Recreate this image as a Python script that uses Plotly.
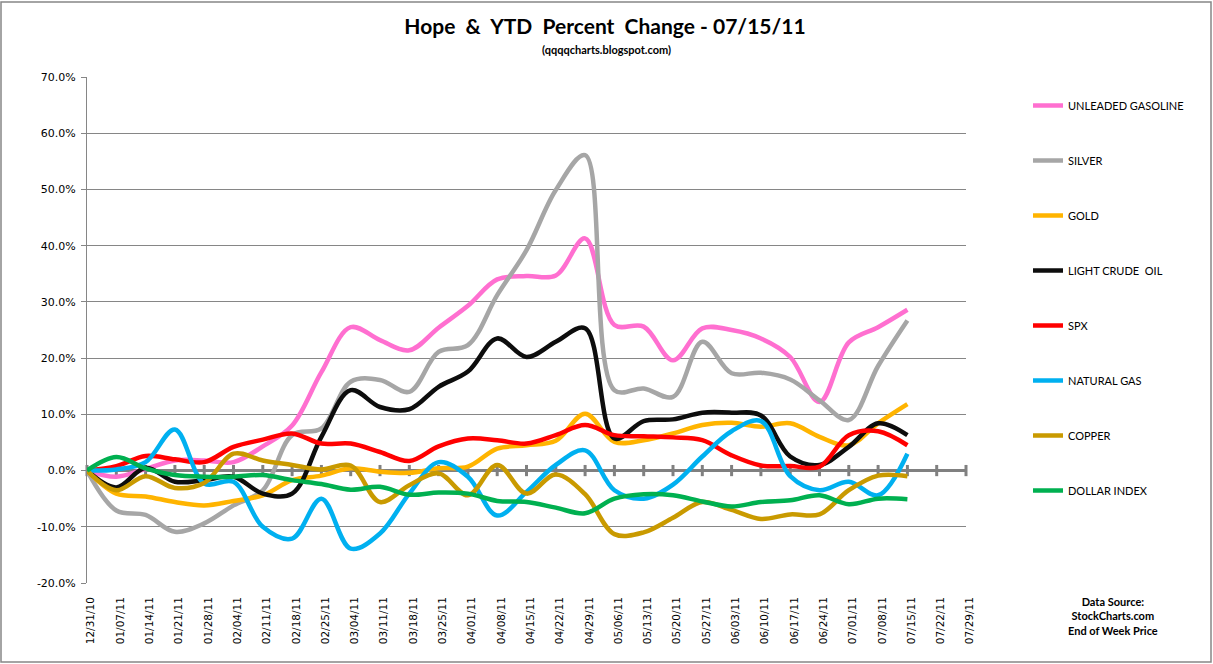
import plotly.graph_objects as go

dates = ["12/31/10", "01/07/11", "01/14/11", "01/21/11", "01/28/11", "02/04/11", "02/11/11",
         "02/18/11", "02/25/11", "03/04/11", "03/11/11", "03/18/11", "03/25/11", "04/01/11",
         "04/08/11", "04/15/11", "04/22/11", "04/29/11", "05/06/11", "05/13/11", "05/20/11",
         "05/27/11", "06/03/11", "06/10/11", "06/17/11", "06/24/11", "07/01/11", "07/08/11",
         "07/15/11", "07/22/11", "07/29/11"]

gasoline = [0, -1.1, 0.3, 1.8, 1.8, 1.5, 4.3, 8.0, 17.5, 25.5, 23.2, 21.4, 25.4, 29.3, 34.0, 34.6,
            34.7, 41.3, 25.9, 25.6, 19.6, 25.3, 25.0, 23.5, 20.2, 12.2, 22.8, 25.5, 28.6]
silver = [0, -7.1, -7.9, -10.9, -9.4, -6.2, -3.5, 6.3, 7.5, 15.8, 16.1, 14.0, 21.1, 22.3, 31.2, 39.2,
          49.9, 56.1, 14.3, 14.6, 13.1, 22.9, 17.3, 17.4, 16.2, 12.5, 9.0, 18.6, 26.7]
gold = [0, -4.1, -4.6, -5.6, -6.2, -5.4, -4.4, -1.7, -0.9, 0.4, -0.2, -0.4, 0.4, 0.7, 3.9, 4.5,
        5.3, 10.1, 5.1, 5.4, 6.6, 8.1, 8.5, 7.8, 8.4, 6.0, 4.5, 8.4, 11.8]
crude = [0, -3.0, 0.5, -2.0, -1.7, -1.1, -4.1, -4.1, 6.0, 14.3, 11.3, 10.9, 14.9, 17.6, 23.5, 20.2,
         22.9, 25.3, 5.7, 8.8, 9.1, 10.3, 10.3, 9.8, 2.5, 1.0, 4.2, 8.4, 6.3]
spx = [0, 0.8, 2.6, 2.0, 1.5, 4.2, 5.5, 6.6, 4.8, 4.8, 3.3, 1.7, 4.3, 5.7, 5.4, 4.8,
       6.3, 8.1, 6.3, 6.1, 5.9, 5.4, 2.7, 0.9, 0.8, 0.7, 6.3, 7.0, 4.5]
natgas = [0, 0.2, 1.5, 7.3, -2.3, -2.0, -10.0, -12.1, -5.0, -13.9, -11.2, -4.1, 1.5, -1.1, -8.0, -3.8,
          1.0, 3.6, -3.5, -5.0, -2.5, 2.5, 7.0, 8.8, -1.0, -3.5, -2.0, -4.4, 3.0]
copper = [0, -3.5, -1.0, -3.1, -2.2, 3.0, 1.8, 1.0, 0.2, 0.9, -5.6, -2.6, -0.5, -4.4, 1.0, -4.1,
          -0.7, -4.2, -11.3, -11.0, -8.4, -5.6, -7.0, -8.6, -7.8, -7.8, -3.5, -0.9, -1.0]
dollar = [0, 2.4, 0.4, -0.8, -1.1, -1.1, -0.8, -1.7, -2.4, -3.4, -2.9, -4.3, -3.9, -4.1, -5.4, -5.6,
          -6.6, -7.6, -5.0, -4.2, -4.4, -5.5, -6.4, -5.6, -5.3, -4.4, -6.0, -5.0, -5.1]

series_names = ["UNLEADED GASOLINE", "SILVER", "GOLD", "LIGHT CRUDE  OIL", "SPX",
                "NATURAL GAS", "COPPER", "DOLLAR INDEX"]
series_values = [gasoline, silver, gold, crude, spx, natgas, copper, dollar]
series_colors = ["#FF6FD0", "#A6A6A6", "#FFB400", "#0D0D0D", "#FF0000", "#00B0F0", "#C99A00", "#00B050"]

ytick_vals = [-20, -10, 0, 10, 20, 30, 40, 50, 60, 70]
ytick_text = ["-20.0%", "-10.0%", "0.0%", "10.0%", "20.0%", "30.0%", "40.0%", "50.0%", "60.0%", "70.0%"]

axis_cross = [0.0] * len(dates)

W, H = 1213, 664
L, R, T, B = 87, 247, 77, 81
pw, ph = W - L - R, H - T - B


def px_x(px):
    return (px - L) / pw


def px_y(py):
    return (H - B - py) / ph


fig = go.Figure()

# horizontal axis crossing at zero, with tick marks at each category
fig.add_trace(go.Scatter(
    x=dates, y=axis_cross, mode="lines+markers", showlegend=False, hoverinfo="skip",
    line=dict(color="#808080", width=3),
    marker=dict(symbol="line-ns", size=8, line=dict(color="#808080", width=3)),
    cliponaxis=False,
))

for i, (name, vals, col) in enumerate(zip(series_names, series_values, series_colors)):
    fig.add_trace(go.Scatter(
        x=dates[:len(vals)], y=vals, name=name, mode="lines",
        line=dict(color=col, width=4.5, shape="spline", smoothing=1.0),
        legendgroup=f"g{i}",
    ))

fig.update_layout(
    width=W, height=H,
    margin=dict(l=L, r=R, t=T, b=B, autoexpand=False),
    paper_bgcolor="white", plot_bgcolor="white",
    font=dict(family="DejaVu Sans", size=11, color="black"),
    title=dict(text="<b>Hope  &  YTD  Percent  Change - 07/15/11</b>",
               font=dict(family="Lato", size=21, color="black"),
               x=605 / W, xanchor="center", y=1 - 27 / H, yanchor="middle"),
    legend=dict(
        x=px_x(1028), xanchor="left", y=px_y(91), yanchor="top",
        font=dict(family="Lato", size=11, color="black"),
        tracegroupgap=36, itemwidth=30, bgcolor="rgba(0,0,0,0)",
    ),
    showlegend=True,
)

fig.update_xaxes(
    type="category", categoryorder="array", categoryarray=dates,
    range=[0, len(dates) - 1],
    tickmode="array", tickvals=dates, ticktext=dates,
    tickangle=-90, tickfont=dict(family="DejaVu Sans", size=10.5, color="black"),
    showgrid=False, zeroline=False, showline=False, ticks="",
    ticklabelstandoff=11, ticklabelshift=4, automargin=False,
)
fig.update_yaxes(
    range=[-20, 70], tickmode="array", tickvals=ytick_vals, ticktext=ytick_text,
    tickfont=dict(family="DejaVu Sans", size=11, color="black"),
    showgrid=True, gridcolor="#868686", gridwidth=1,
    zeroline=False, showline=True, linecolor="#868686", linewidth=1,
    ticks="outside", ticklen=5, tickcolor="#868686", automargin=False,
    ticklabelstandoff=3,
)

fig.add_annotation(
    text="<b>(qqqqcharts.blogspot.com)</b>", xref="paper", yref="paper",
    x=px_x(606), y=px_y(49), showarrow=False,
    font=dict(family="Lato", size=11, color="black"), xanchor="center", yanchor="middle",
)
fig.add_annotation(
    text="<b>Data Source:<br>StockCharts.com<br>End of Week Price</b>", xref="paper", yref="paper",
    x=px_x(1113), y=px_y(616), showarrow=False, align="center",
    font=dict(family="Lato", size=11, color="black"), xanchor="center", yanchor="middle",
)
fig.add_shape(
    type="rect", xref="paper", yref="paper",
    x0=px_x(1), x1=px_x(1211), y0=px_y(662), y1=px_y(2),
    line=dict(color="#868686", width=1.5), fillcolor="rgba(0,0,0,0)", layer="below",
)

fig.write_html(
    "out.html",
    config={"displayModeBar": False},
    post_script="document.body.style.margin='0px';document.body.style.overflow='hidden';",
)
